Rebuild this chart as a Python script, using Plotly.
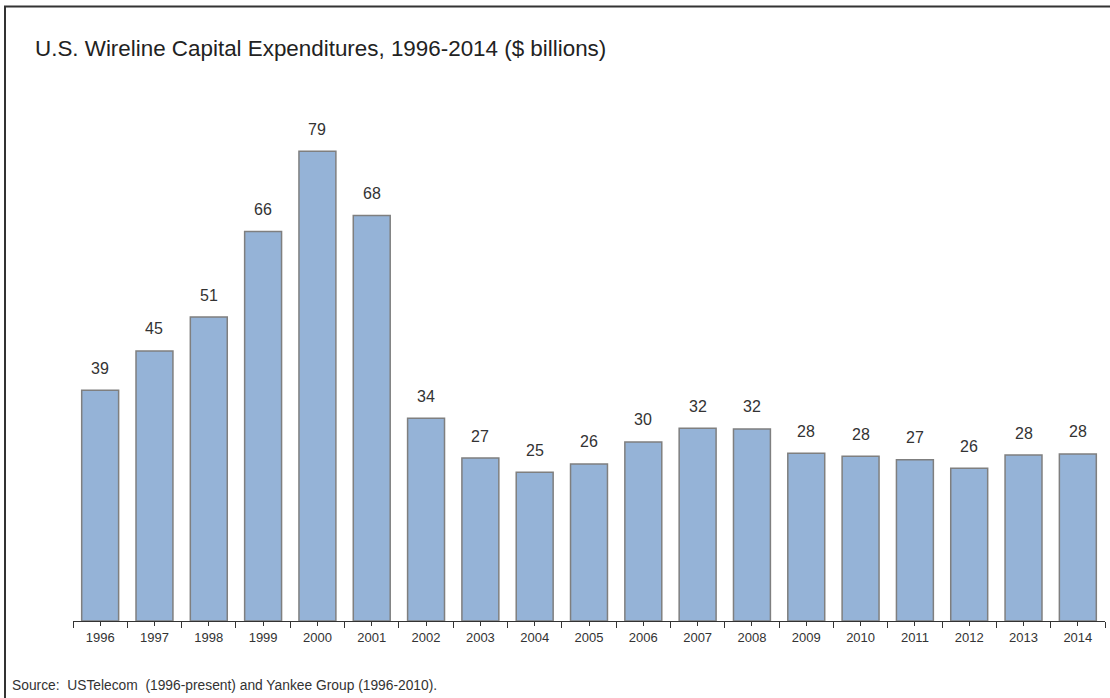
import plotly.graph_objects as go

years = list(range(1996, 2015))
capex = [38.8, 45.4, 51.1, 65.5, 79.0, 68.2, 34.1, 27.4, 25.0, 26.4, 30.1, 32.4, 32.3, 28.2, 27.7, 27.1, 25.7, 27.9, 28.1]
labels = ["39", "45", "51", "66", "79", "68", "34", "27", "25", "26", "30", "32", "32", "28", "28", "27", "26", "28", "28"]

W, H = 1110, 698
L, R, T, B = 73, 5, 100, 77
pw = W - L - R
ph = H - T - B

def px(x):
    return (x - L) / pw

def py(y):
    return (H - B - y) / ph

FONT = "Liberation Sans, Arial, sans-serif"

fig = go.Figure(go.Bar(
    x=years, y=capex,
    marker=dict(color="#95B3D7", line=dict(color="#7F7F7F", width=1.5)),
    width=0.68, hoverinfo="x+y",
))

label_annotations = [
    dict(x=x, y=v, text=t, xref="x", yref="y", showarrow=False,
         yanchor="middle", yshift=22,
         font=dict(size=16, color="#333333", family=FONT))
    for x, v, t in zip(years, capex, labels)
]

fig.update_layout(
    width=W, height=H,
    margin=dict(l=L, r=R, t=T, b=B),
    paper_bgcolor="white", plot_bgcolor="white",
    font=dict(family=FONT, color="#333333"),
    title=dict(text="U.S. Wireline Capital Expenditures, 1996-2014 ($ billions)",
               x=35 / W, xref="container", xanchor="left",
               y=1 - 48 / H, yref="container", yanchor="middle",
               font=dict(size=22.4, color="#222222")),
    showlegend=False,
    xaxis=dict(range=[1995.5, 2014.5], tickmode="array", tickvals=years,
               ticktext=[str(y) for y in years],
               showline=True, linecolor="#333333", linewidth=1,
               ticks="outside", ticklen=4, tickcolor="#333333",
               tickfont=dict(size=13, color="#333333"),
               showgrid=False, zeroline=False, fixedrange=True,
               minor=dict(tick0=1995.5, dtick=1, ticks="outside", ticklen=6,
                          tickcolor="#333333", showgrid=False)),
    yaxis=dict(range=[0, 87.6], visible=False, fixedrange=True),
    bargap=0.32,
    shapes=[dict(type="rect", xref="paper", yref="paper",
                 x0=px(5), x1=px(1115), y0=py(705), y1=py(6.5),
                 line=dict(color="#333333", width=2), fillcolor="rgba(0,0,0,0)",
                 layer="below")],
    annotations=label_annotations + [
        dict(text="Source:  USTelecom  (1996-present) and Yankee Group (1996-2010).",
             xref="paper", yref="paper", x=px(10), y=py(685),
             xanchor="left", yanchor="middle", showarrow=False,
             font=dict(size=13.8, color="#333333", family=FONT))],
)

fig.write_html("out.html")
